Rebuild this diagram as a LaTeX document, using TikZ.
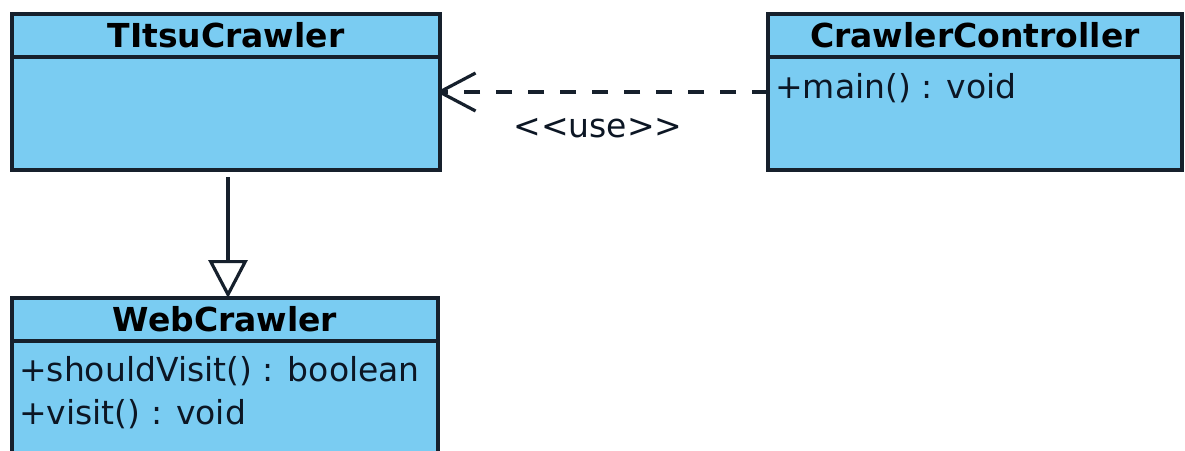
\documentclass[tikz,border=0pt]{standalone}
\usepackage{fontspec}
\setmainfont{DejaVu Sans}
\usepackage{xcolor}
\usetikzlibrary{positioning,calc,arrows.meta}
\definecolor{umlblue}{RGB}{122,204,242}
\definecolor{umlline}{RGB}{22,32,44}
\definecolor{umltext}{RGB}{12,22,36}
\newcommand{\umlhead}{\fontsize{33}{40}\selectfont\bfseries}
\newcommand{\umlbody}{\fontsize{33}{40}\selectfont}
\tikzset{
  classhead/.style={draw=umlline,fill=umlblue,line width=3.5pt,inner sep=0pt,outer sep=0pt,
    minimum height=43pt,font=\umlhead,text=black,anchor=north west},
  classbody/.style={draw=umlline,fill=umlblue,line width=3.5pt,inner sep=0pt,outer sep=0pt},
  member/.style={anchor=base west,inner sep=0pt,font=\umlbody,text=umltext},
  inherit/.style={draw=umlline,line width=3.2pt,-{Triangle[open,length=38pt,width=39pt,fill=white]}},
  usedep/.style={draw=umlline,line width=3.2pt,dash pattern=on 16pt off 16pt,
    -{Straight Barb[length=36pt,width=38pt,line join=round]}},
}
\begin{document}
\begin{tikzpicture}[x=1pt,y=-1pt]
\useasboundingbox (0,0) rectangle (1185,450);
% classes
\node[classhead,minimum width=428pt] (titsuhead) at (12,14) {TItsuCrawler};
\node[classbody,minimum width=428pt,minimum height=113pt,below=0pt of titsuhead] (titsubody) {};

\node[classhead,minimum width=414pt] (ctrlhead) at (768,14) {CrawlerController};
\node[classbody,minimum width=414pt,minimum height=113pt,below=0pt of ctrlhead] (ctrlbody) {};
\node[member] (ctrlmain) at ($(ctrlbody.north west)+(7,41)$) {+main() : void};

\node[classhead,minimum width=426pt] (webhead) at (12,298) {WebCrawler};
\node[classbody,minimum width=426pt,minimum height=130pt,below=0pt of webhead] (webbody) {};
\node[member] (webshould) at ($(webbody.north west)+(7,40)$) {+shouldVisit() : boolean};
\node[member] (webvisit) at ($(webbody.north west)+(7,83)$) {+visit() : void};

% relations
\draw[inherit,shorten <=7pt] ([xshift=2pt]titsubody.south) -- ([xshift=2pt]titsubody.south |- webhead.north);
\coordinate (usestart) at ($(ctrlbody.north west)+(0,35)$);
\draw[usedep,shorten >=-2pt] (usestart) -- (titsubody.east |- usestart)
  node[midway,anchor=base,yshift=-45pt,xshift=-6pt,font=\umlbody,text=umltext] {<\kern0pt<use>\kern0pt>};
\end{tikzpicture}
\end{document}
